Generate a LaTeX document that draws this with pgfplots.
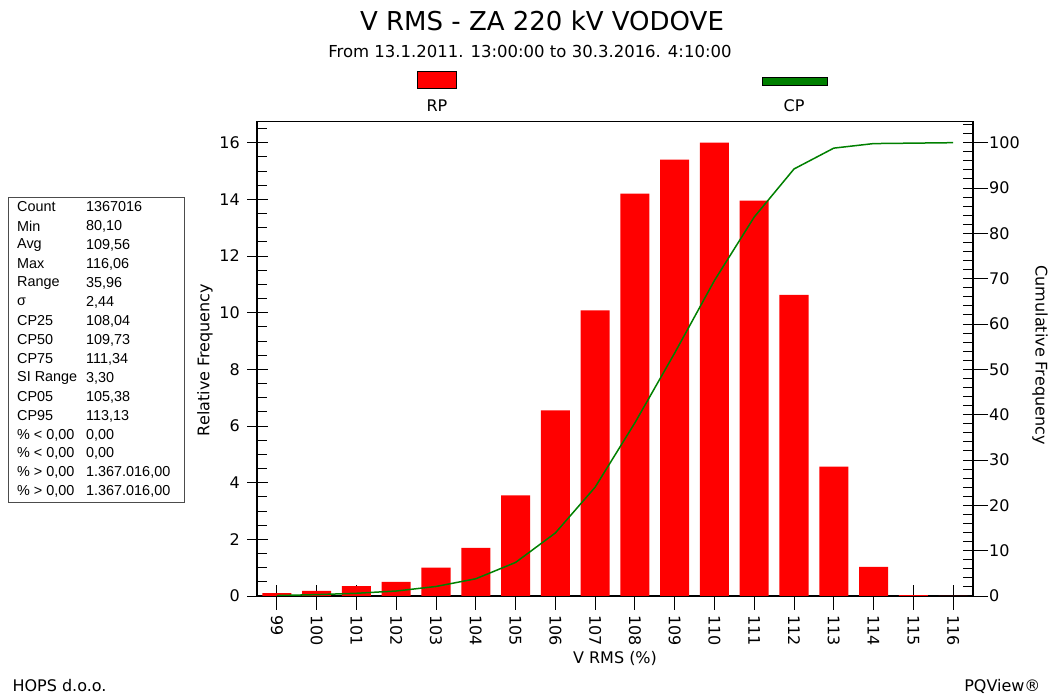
\documentclass[border=0pt]{standalone}
\usepackage{pgfplots}
\pgfplotsset{compat=1.18}
\usepackage{fontspec}
\setmainfont{DejaVu Sans}
\newfontfamily\arialf{Liberation Sans}
\definecolor{barred}{RGB}{255,0,0}
\definecolor{cpgreen}{RGB}{0,128,0}
\pgfplotstableread{
x rp
99 0.10
100 0.18
101 0.35
102 0.50
103 1.00
104 1.70
105 3.55
106 6.55
107 10.08
108 14.20
109 15.40
110 16.00
111 13.95
112 10.63
113 4.57
114 1.03
115 0.03
116 0.00
}\rpdata
\pgfplotstableread{
x cp
99 0.1
100 0.3
101 0.6
102 1.1
103 2.1
104 3.8
105 7.4
106 13.9
107 24.0
108 38.2
109 53.6
110 69.6
111 83.6
112 94.2
113 98.8
114 99.8
115 99.9
116 100.0
}\cpdata
\begin{document}
\begin{tikzpicture}[x=1pt,y=1pt]
\path[use as bounding box] (0,0) rectangle (1052,698);
% titles
\node[font=\fontsize{26}{30}\selectfont] at (542,677) {V RMS - ZA 220 kV VODOVE};
\node[font=\fontsize{16.5}{20}\selectfont] at (530,646) {From 13.1.2011. 13:00:00 to 30.3.2016. 4:10:00};
% legend
\draw[fill=barred, line width=0.8pt] (417,627) rectangle (456,610);
\node[font=\fontsize{16}{19}\selectfont] at (437,592) {RP};
\draw[fill=cpgreen, line width=0.8pt] (762,621) rectangle (827,613);
\node[font=\fontsize{16}{19}\selectfont] at (794,592) {CP};
% stats box
\draw[line width=0.8pt, black!70] (8,501) rectangle (184,196);
\begin{scope}[every node/.style={font=\arialf\fontsize{14.4}{16}\selectfont, anchor=west, inner sep=0pt}]
\node at (17,491) {Count};      \node at (86,491) {1367016};
\node at (17,472) {Min};        \node at (86,472) {80,10};
\node at (17,453) {Avg};        \node at (86,453) {109,56};
\node at (17,434) {Max};        \node at (86,434) {116,06};
\node at (17,415) {Range};      \node at (86,415) {35,96};
\node at (17,396) {σ};          \node at (86,396) {2,44};
\node at (17,377) {CP25};       \node at (86,377) {108,04};
\node at (17,358) {CP50};       \node at (86,358) {109,73};
\node at (17,339) {CP75};       \node at (86,339) {111,34};
\node at (17,320) {SI Range};   \node at (86,320) {3,30};
\node at (17,301) {CP05};       \node at (86,301) {105,38};
\node at (17,282) {CP95};       \node at (86,282) {113,13};
\node at (17,263) {\% < 0,00};  \node at (86,263) {0,00};
\node at (17,245) {\% < 0,00};  \node at (86,245) {0,00};
\node at (17,226) {\% > 0,00};  \node at (86,226) {1.367.016,00};
\node at (17,207) {\% > 0,00};  \node at (86,207) {1.367.016,00};
\end{scope}
% footer
\node[font=\fontsize{16}{19}\selectfont, anchor=west] at (9,12) {HOPS d.o.o.};
\node[font=\fontsize{16}{19}\selectfont, anchor=east] at (1044,12) {PQView®};
% main axis
\begin{axis}[
  at={(257pt,102pt)}, anchor=south west,
  scale only axis, width=716pt, height=474.3pt,
  xmin=98.5, xmax=116.5, ymin=0, ymax=16.74,
  xtick={99,...,116}, ytick={0,2,...,18}, minor y tick num=3,
  xtick pos=bottom, ytick pos=left,
  tick align=inside, major tick length=11pt, minor tick length=10pt,
  extra y ticks={0,2,...,16}, extra y tick labels={},
  extra y tick style={tick align=outside, major tick length=10pt},
  extra x ticks={99,...,116}, extra x tick labels={},
  extra x tick style={tick align=outside, major tick length=14pt},
  /pgf/number format/assume math mode=true,
  tick label style={font=\fontsize{16}{19}\selectfont},
  xticklabel style={rotate=-90, anchor=west, inner sep=0pt},
  xticklabel shift=19pt,
  yticklabel style={anchor=east, inner sep=0pt},
  yticklabel shift=17pt,
  axis line style={line width=1.2pt},
  every tick/.style={black, line width=0.9pt},
  label style={font=\fontsize{16}{19}\selectfont},
  xlabel={V RMS (\%)},
  xlabel style={at={(axis description cs:0.5,-0.1307)}, anchor=center},
  ylabel={Relative Frequency},
  ylabel style={at={(axis description cs:-0.0726,0.4976)}, anchor=center},
]
\addplot[ybar, bar width=0.73, fill=barred, draw=none] table[x=x, y=rp] {\rpdata};
\end{axis}
% cumulative axis
\begin{axis}[
  at={(257pt,102pt)}, anchor=south west,
  scale only axis, width=716pt, height=474.3pt,
  xmin=98.5, xmax=116.5, ymin=0, ymax=104.63,
  axis x line=none, axis y line*=right,
  ytick={0,10,...,110}, minor y tick num=4,
  tick align=inside, major tick length=10pt, minor tick length=10pt,
  extra y ticks={0,10,...,100}, extra y tick labels={},
  extra y tick style={tick align=outside, major tick length=15pt},
  /pgf/number format/assume math mode=true,
  tick label style={font=\fontsize{16}{19}\selectfont},
  yticklabel style={anchor=west, inner sep=0pt},
  yticklabel shift=16pt,
  axis line style={line width=1.2pt},
  every tick/.style={black, line width=0.9pt},
  label style={font=\fontsize{16}{19}\selectfont},
  ylabel={Cumulative Frequency},
  ylabel style={at={(axis description cs:1.0936,0.508)}, anchor=center, rotate=180},
]
\addplot[cpgreen, line width=1.5pt] table[x=x, y=cp] {\cpdata};
\end{axis}
\end{tikzpicture}
\end{document}
